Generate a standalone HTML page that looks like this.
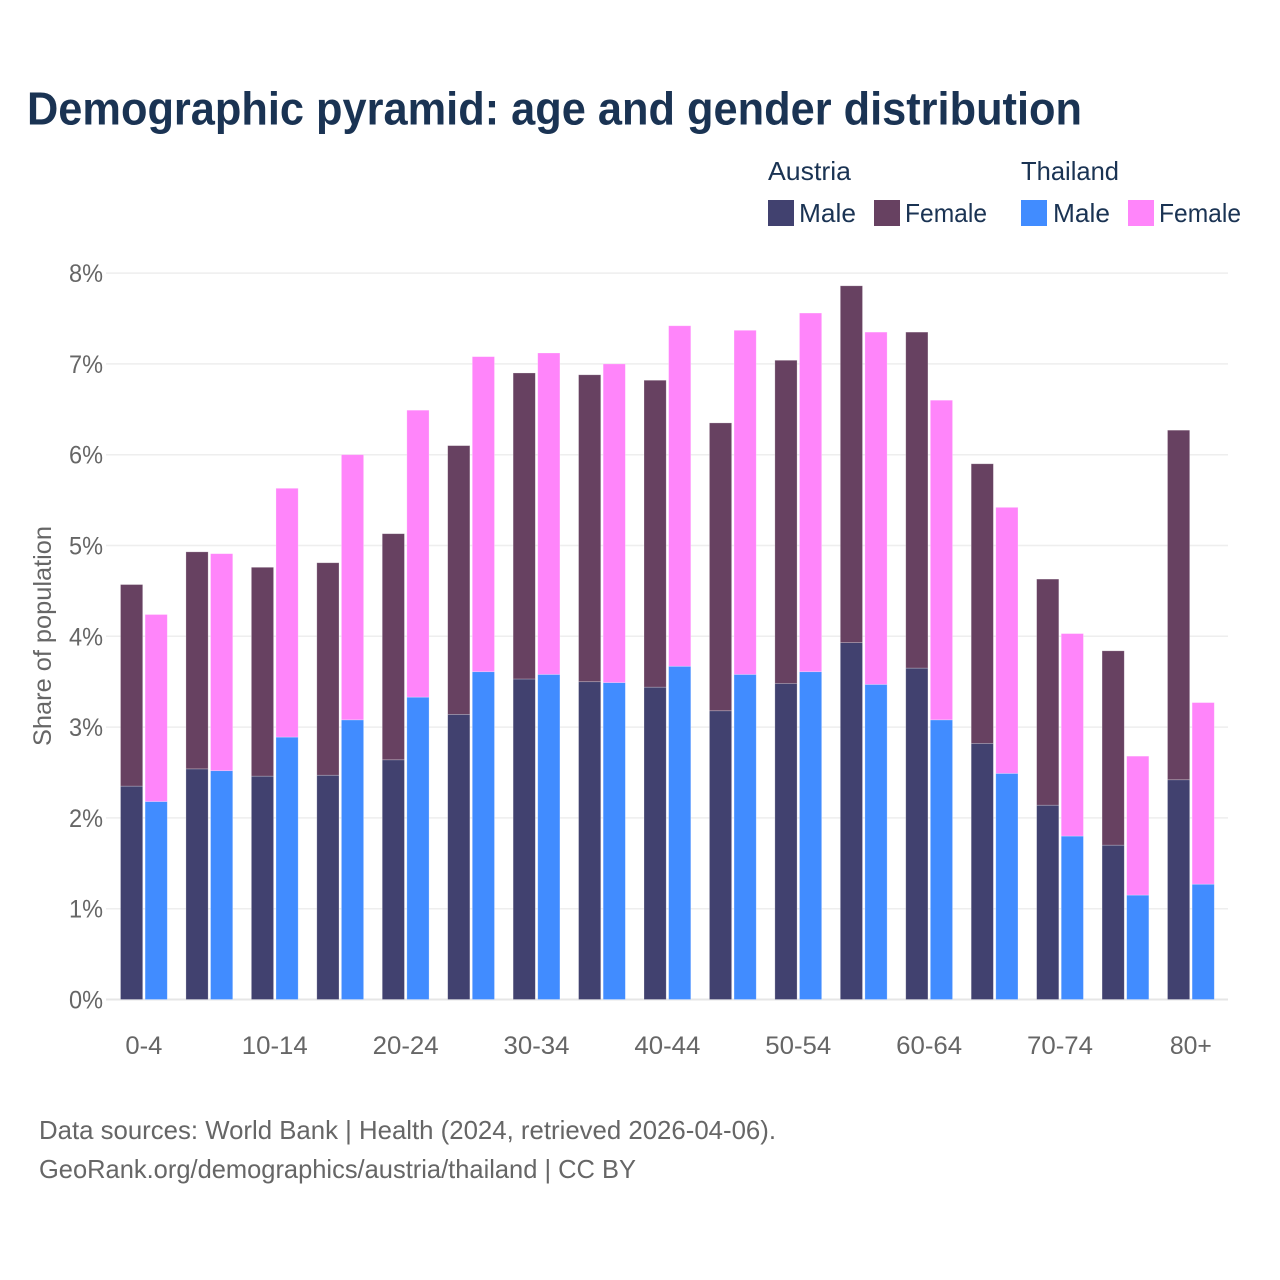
<!DOCTYPE html>
<html lang="en">
<head>
<meta charset="utf-8">
<title>Demographic pyramid: age and gender distribution</title>
<style>
html,body{margin:0;padding:0;background:#fff;}
svg{display:block;font-family:"Liberation Sans",sans-serif;}
</style>
</head>
<body>
<svg id="chart" xmlns="http://www.w3.org/2000/svg" width="1280" height="1280" viewBox="0 0 1280 1280">
  <rect width="1280" height="1280" fill="#fff"/>
  <text x="27" y="124.5" font-size="46" font-weight="700" fill="#1a3353" textLength="1055" lengthAdjust="spacingAndGlyphs">Demographic pyramid: age and gender distribution</text>

  <g font-size="26" fill="#1a3353">
    <text x="768" y="180" textLength="83" lengthAdjust="spacingAndGlyphs">Austria</text>
    <text x="1021" y="180" textLength="98" lengthAdjust="spacingAndGlyphs">Thailand</text>
    <rect x="768" y="200" width="26" height="26" fill="#41416f"/>
    <text x="799" y="222" textLength="57" lengthAdjust="spacingAndGlyphs">Male</text>
    <rect x="874" y="200" width="26" height="26" fill="#674161"/>
    <text x="905" y="222" textLength="82" lengthAdjust="spacingAndGlyphs">Female</text>
    <rect x="1021" y="200" width="26" height="26" fill="#418cff"/>
    <text x="1053" y="222" textLength="57" lengthAdjust="spacingAndGlyphs">Male</text>
    <rect x="1128" y="200" width="26" height="26" fill="#ff85fa"/>
    <text x="1159" y="222" textLength="82" lengthAdjust="spacingAndGlyphs">Female</text>
  </g>

  <g id="grid"></g>
  <g id="bars"></g>
  <g id="yticks" font-size="25" fill="#666"></g>
  <g id="xticks" font-size="25" fill="#666"></g>

  <text transform="translate(51,636) rotate(-90)" text-anchor="middle" font-size="25" fill="#666" textLength="220" lengthAdjust="spacingAndGlyphs">Share of population</text>

  <text x="39" y="1139" font-size="26" fill="#666" textLength="737" lengthAdjust="spacingAndGlyphs">Data sources: World Bank | Health (2024, retrieved 2026-04-06).</text>
  <text x="39" y="1178" font-size="26" fill="#666" textLength="597" lengthAdjust="spacingAndGlyphs">GeoRank.org/demographics/austria/thailand | CC BY</text>
</svg>
<script>
const ageGroups = ['0-4','5-9','10-14','15-19','20-24','25-29','30-34','35-39','40-44','45-49','50-54','55-59','60-64','65-69','70-74','75-79','80+'];
const xTickLabels = ['0-4','10-14','20-24','30-34','40-44','50-54','60-64','70-74','80+'];
const yTickValues = [0,1,2,3,4,5,6,7,8];
const austriaMale = [2.35,2.54,2.46,2.47,2.64,3.14,3.53,3.50,3.44,3.18,3.48,3.93,3.65,2.82,2.14,1.70,2.42];
const austriaFemale = [2.22,2.39,2.30,2.34,2.49,2.96,3.37,3.38,3.38,3.17,3.56,3.93,3.70,3.08,2.49,2.14,3.85];
const thailandMale = [2.18,2.52,2.89,3.08,3.33,3.61,3.58,3.49,3.67,3.58,3.61,3.47,3.08,2.49,1.80,1.15,1.27];
const thailandFemale = [2.06,2.39,2.74,2.92,3.16,3.47,3.54,3.51,3.75,3.79,3.95,3.88,3.52,2.93,2.23,1.53,2.00];

const NS = 'http://www.w3.org/2000/svg';
const yScale = v => 999.5 - v * 90.8;
const xCenter = i => 143.9 + i * (1047 / (ageGroups.length - 1));
const BAR_W = 22.2;
const GAP = 1.2;

function make(tag, parent, attrs) {
  const el = document.createElementNS(NS, tag);
  for (const k in attrs) el.setAttribute(k, attrs[k]);
  parent.appendChild(el);
  return el;
}

const gridG = document.getElementById('grid');
const yG = document.getElementById('yticks');
const xG = document.getElementById('xticks');
const barsG = document.getElementById('bars');

yTickValues.forEach(v => {
  const line = make('line', gridG, {
    x1: 106, x2: 1228, y1: yScale(v), y2: yScale(v),
    stroke: v === 0 ? '#e6e6e6' : '#eeeeee',
    'stroke-width': v === 0 ? 2 : 1.5
  });
  
  
  const t = make('text', yG, {
    x: 103, y: yScale(v) + 9, 'text-anchor': 'end',
    textLength: 34, lengthAdjust: 'spacingAndGlyphs'
  });
  t.textContent = v + '%';
  
  
});

xTickLabels.forEach(label => {
  const i = ageGroups.indexOf(label);
  const w = label.length === 5 ? 66 : (label === '80+' ? 42 : 37);
  const t = make('text', xG, {
    x: xCenter(i), y: 1054, 'text-anchor': 'middle',
    textLength: w, lengthAdjust: 'spacingAndGlyphs'
  });
  t.textContent = label;
  
  
});

function drawSegment(x, base, value, fill, name) {
  const top = yScale(base + value);
  const r = make('rect', barsG, {
    x: x, y: top, width: BAR_W, height: yScale(base) - top,
    fill: fill, stroke: '#ffffff', 'stroke-opacity': 0.35, 'stroke-width': 0.7
  });
  
  
}

ageGroups.forEach((age, i) => {
  const left = xCenter(i) - BAR_W - GAP;
  const right = xCenter(i) + GAP;
  drawSegment(left, 0, austriaMale[i], '#41416f', 'bar-austria-male-' + age);
  drawSegment(left, austriaMale[i], austriaFemale[i], '#674161', 'bar-austria-female-' + age);
  drawSegment(right, 0, thailandMale[i], '#418cff', 'bar-thailand-male-' + age);
  drawSegment(right, thailandMale[i], thailandFemale[i], '#ff85fa', 'bar-thailand-female-' + age);
});
</script>
</body>
</html>
